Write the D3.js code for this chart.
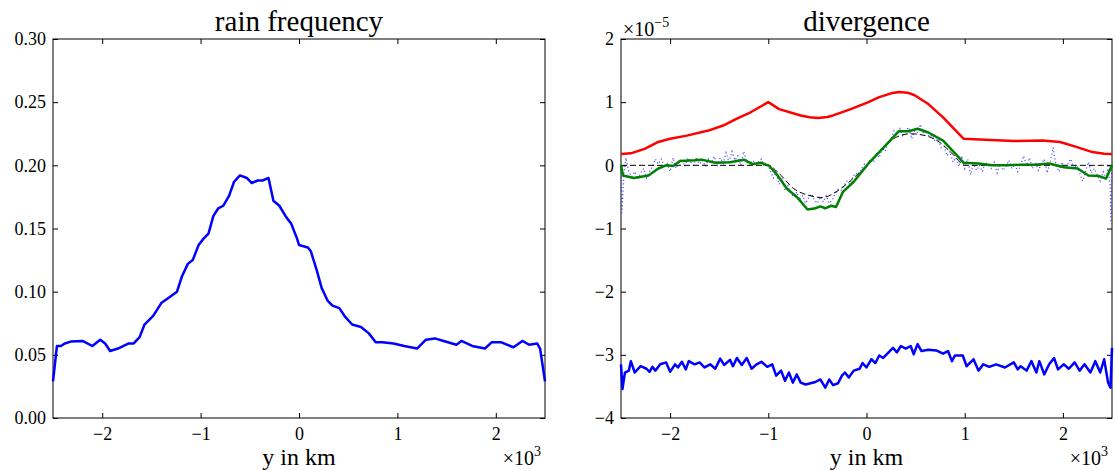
<!DOCTYPE html>
<head>
  <meta charset="utf-8">
  <script src="https://d3js.org/d3.v7.min.js"></script>
  <style>
    body { margin:0; background:#fff; }
    text { font-family: "Liberation Serif", "DejaVu Serif", serif; fill:#000; }
  </style>
</head>
<body>
<script>
// x in units of 10^3 km
var rainX = [-2.5,-2.46,-2.42,-2.38,-2.32,-2.2,-2.1,-2.02,-1.97,-1.92,-1.84,-1.73,-1.68,-1.62,-1.57,-1.48,-1.4,-1.31,-1.24,-1.19,-1.13,-1.08,-1.02,-0.97,-0.92,-0.87,-0.82,-0.77,-0.71,-0.66,-0.6,-0.53,-0.48,-0.42,-0.37,-0.31,-0.26,-0.2,-0.13,-0.08,-0.02,0.0,0.09,0.12,0.18,0.23,0.29,0.34,0.41,0.47,0.54,0.63,0.71,0.78,0.85,0.96,1.07,1.2,1.29,1.38,1.47,1.6,1.65,1.76,1.89,1.96,2.05,2.18,2.27,2.34,2.42,2.45,2.5];
var rainY = [0.029,0.057,0.057,0.059,0.0605,0.061,0.057,0.062,0.059,0.053,0.055,0.059,0.059,0.064,0.074,0.081,0.091,0.096,0.100,0.112,0.122,0.125,0.137,0.142,0.146,0.160,0.166,0.168,0.176,0.187,0.192,0.190,0.186,0.188,0.188,0.190,0.172,0.168,0.159,0.154,0.142,0.137,0.135,0.132,0.117,0.103,0.093,0.089,0.087,0.080,0.074,0.072,0.067,0.060,0.060,0.059,0.057,0.055,0.062,0.063,0.061,0.058,0.061,0.057,0.055,0.060,0.060,0.056,0.061,0.058,0.059,0.055,0.029];

// divergence series, values in units of 10^-5
var redX = [-2.5,-2.4,-2.26,-2.12,-2.0,-1.83,-1.61,-1.46,-1.32,-1.18,-1.0,-0.89,-0.67,-0.58,-0.49,-0.4,-0.34,-0.16,0.02,0.13,0.25,0.33,0.42,0.49,0.63,0.78,0.89,0.99,1.21,1.5,1.79,1.97,2.12,2.3,2.42,2.5];
var redY = [0.18,0.19,0.26,0.37,0.42,0.47,0.55,0.63,0.74,0.84,1.0,0.89,0.79,0.76,0.75,0.765,0.79,0.89,1.0,1.08,1.14,1.16,1.15,1.11,0.97,0.76,0.58,0.42,0.405,0.385,0.395,0.37,0.30,0.21,0.185,0.18];

var dashX = [-2.5,-1.0,-0.89,-0.74,-0.6,-0.45,-0.31,-0.16,0.0,0.16,0.31,0.45,0.6,0.74,0.89,1.0,2.5];
var dashY = [0,0,-0.13,-0.37,-0.47,-0.51,-0.42,-0.24,0.0,0.26,0.45,0.5,0.47,0.37,0.16,0,0];

var greenX = [-2.5,-2.48,-2.37,-2.22,-2.12,-2.04,-1.97,-1.9,-1.75,-1.68,-1.54,-1.39,-1.25,-1.16,-1.07,-0.99,-0.92,-0.81,-0.71,-0.6,-0.52,-0.47,-0.42,-0.36,-0.31,-0.24,-0.13,0.02,0.13,0.24,0.33,0.43,0.52,0.63,0.78,0.89,0.99,1.14,1.28,1.43,1.57,1.72,1.86,2.01,2.15,2.26,2.37,2.44,2.5];
var greenY = [0,-0.16,-0.2,-0.16,-0.05,0,-0.01,0.07,0.08,0.09,0.04,0.05,0.09,0.02,0.04,-0.01,-0.13,-0.37,-0.5,-0.7,-0.68,-0.65,-0.68,-0.64,-0.66,-0.42,-0.26,0.03,0.21,0.39,0.54,0.54,0.58,0.52,0.39,0.21,0.04,0.03,0.0,0.0,0.01,0.01,0.03,-0.03,-0.05,-0.16,-0.17,-0.21,0];

var dotX = [-2.5,-2.49,-2.47,-2.45,-2.42,-2.39,-2.36,-2.33,-2.3,-2.27,-2.24,-2.21,-2.18,-2.15,-2.12,-2.09,-2.06,-2.03,-2.0,-1.97,-1.94,-1.91,-1.88,-1.85,-1.82,-1.79,-1.76,-1.73,-1.7,-1.67,-1.64,-1.61,-1.58,-1.55,-1.52,-1.49,-1.46,-1.43,-1.4,-1.37,-1.34,-1.31,-1.28,-1.25,-1.22,-1.19,-1.16,-1.13,-1.1,-1.07,-1.04,-1.01,-0.98,-0.95,-0.92,-0.89,-0.86,-0.83,-0.8,-0.77,-0.74,-0.71,-0.68,-0.65,-0.62,-0.59,-0.56,-0.53,-0.5,-0.47,-0.44,-0.41,-0.38,-0.35,-0.32,-0.29,-0.26,-0.23,-0.2,-0.17,-0.14,-0.11,-0.08,-0.05,-0.02,0.01,0.04,0.07,0.1,0.13,0.16,0.19,0.22,0.25,0.28,0.31,0.34,0.37,0.4,0.43,0.46,0.49,0.52,0.55,0.58,0.61,0.64,0.67,0.7,0.73,0.76,0.79,0.82,0.85,0.88,0.91,0.94,0.97,1.0,1.03,1.06,1.09,1.12,1.15,1.18,1.21,1.24,1.27,1.3,1.33,1.36,1.39,1.42,1.45,1.48,1.51,1.54,1.57,1.6,1.63,1.66,1.69,1.72,1.75,1.78,1.81,1.84,1.87,1.9,1.93,1.96,1.99,2.02,2.05,2.08,2.11,2.14,2.17,2.2,2.23,2.26,2.29,2.32,2.35,2.38,2.41,2.44,2.46,2.48,2.49,2.5];
var dotY = [0.0,-0.75,-0.1,0.12,-0.1,-0.18,-0.1,-0.22,-0.12,-0.05,-0.2,-0.1,-0.02,0.1,0.02,0.1,0.0,0.03,-0.1,0.12,-0.05,0.05,0.1,-0.02,0.12,0.05,0.0,0.13,0.02,0.08,-0.02,0.1,0.04,0.14,0.0,0.12,0.03,0.2,0.05,0.22,0.08,0.15,0.0,0.22,0.05,0.0,0.08,0.02,0.05,0.1,-0.02,0.03,-0.08,-0.2,-0.12,-0.3,-0.2,-0.4,-0.32,-0.45,-0.5,-0.42,-0.55,-0.48,-0.6,-0.52,-0.45,-0.55,-0.6,-0.5,-0.58,-0.48,-0.6,-0.55,-0.45,-0.38,-0.4,-0.32,-0.25,-0.3,-0.18,-0.12,-0.15,-0.05,0.02,-0.02,0.1,0.05,0.18,0.12,0.28,0.22,0.35,0.4,0.55,0.5,0.58,0.45,0.55,0.6,0.42,0.55,0.52,0.65,0.5,0.55,0.45,0.48,0.38,0.42,0.28,0.3,0.15,0.22,0.05,0.12,-0.02,0.15,-0.05,0.1,-0.15,0.02,-0.08,0.0,-0.1,0.05,0.0,-0.05,0.05,-0.12,0.02,-0.08,-0.02,0.08,-0.05,0.02,-0.1,0.0,0.15,0.0,0.12,-0.05,0.05,-0.08,0.02,0.1,-0.12,0.05,0.28,0.0,-0.1,0.05,-0.05,0.02,0.1,-0.05,0.0,-0.12,-0.25,-0.1,0.05,-0.12,-0.05,-0.15,-0.25,-0.1,-0.2,-0.05,-0.3,-0.9,0.0];

var lowX = [-2.5,-2.485,-2.46,-2.42,-2.4,-2.36,-2.3,-2.24,-2.21,-2.18,-2.15,-2.1,-2.04,-2.0,-1.95,-1.92,-1.88,-1.84,-1.81,-1.75,-1.7,-1.65,-1.59,-1.54,-1.49,-1.45,-1.39,-1.36,-1.32,-1.27,-1.22,-1.17,-1.12,-1.07,-1.01,-0.96,-0.92,-0.87,-0.83,-0.79,-0.75,-0.71,-0.67,-0.62,-0.52,-0.47,-0.42,-0.38,-0.34,-0.29,-0.25,-0.22,-0.18,-0.13,-0.07,-0.04,0.0,0.05,0.09,0.13,0.17,0.22,0.27,0.31,0.35,0.4,0.45,0.48,0.52,0.56,0.63,0.71,0.78,0.83,0.87,0.9,0.98,1.02,1.09,1.14,1.19,1.25,1.32,1.41,1.5,1.54,1.57,1.63,1.68,1.73,1.76,1.81,1.86,1.91,1.95,2.01,2.06,2.12,2.17,2.22,2.28,2.33,2.38,2.42,2.46,2.485,2.5];
var lowY = [-3.15,-3.54,-3.28,-3.25,-3.10,-3.28,-3.18,-3.22,-3.27,-3.19,-3.25,-3.15,-3.12,-3.27,-3.15,-3.2,-3.11,-3.23,-3.10,-3.15,-3.12,-3.2,-3.15,-3.22,-3.06,-3.16,-3.08,-3.18,-3.05,-3.16,-3.05,-3.22,-3.15,-3.11,-3.19,-3.15,-3.33,-3.25,-3.41,-3.28,-3.44,-3.31,-3.44,-3.47,-3.43,-3.39,-3.52,-3.39,-3.48,-3.45,-3.33,-3.28,-3.36,-3.25,-3.22,-3.13,-3.2,-3.07,-3.13,-3.01,-3.05,-2.97,-2.89,-2.96,-2.86,-2.9,-2.86,-2.99,-2.83,-2.94,-2.92,-2.93,-2.98,-2.94,-3.10,-3.01,-3.01,-3.18,-3.07,-3.25,-3.15,-3.19,-3.15,-3.2,-3.12,-3.23,-3.18,-3.25,-3.10,-3.28,-3.10,-3.31,-3.15,-3.05,-3.23,-3.15,-3.22,-3.12,-3.25,-3.15,-3.28,-3.10,-3.28,-3.07,-3.44,-3.52,-2.89];

var xTicks = [-2, -1, 0, 1, 2];
var rainTicks = [0.00, 0.05, 0.10, 0.15, 0.20, 0.25, 0.30];
var divTicks = [-4, -3, -2, -1, 0, 1, 2];

var W = 1115, H = 470;
var FONT = '"Liberation Serif", "DejaVu Serif", serif';
var svg = d3.select("body").append("svg").attr("width", W).attr("height", H);

function minus(s) { return String(s).replace("-", "\u2212"); }
function zip(xs, ys) { return xs.map(function(x, i) { return [x, ys[i]]; }); }

function panel(left, right, yDomain, yTicks, yFmt, title) {
  var top = 39, bottom = 418;
  var x = d3.scaleLinear().domain([-2.5, 2.5]).range([left, right]);
  var y = d3.scaleLinear().domain(yDomain).range([bottom, top]);
  var g = svg.append("g");
  var tk = 5;

  var axes = [
    g.append("g").attr("transform", "translate(0," + bottom + ")")
      .call(d3.axisBottom(x).tickValues(xTicks).tickSizeInner(-tk).tickSizeOuter(0).tickPadding(9).tickFormat(minus)),
    g.append("g").attr("transform", "translate(0," + top + ")")
      .call(d3.axisTop(x).tickValues(xTicks).tickSizeInner(-tk).tickSizeOuter(0).tickFormat("")),
    g.append("g").attr("transform", "translate(" + left + ",0)")
      .call(d3.axisLeft(y).tickValues(yTicks).tickSizeInner(-tk).tickSizeOuter(0).tickPadding(7).tickFormat(yFmt)),
    g.append("g").attr("transform", "translate(" + right + ",0)")
      .call(d3.axisRight(y).tickValues(yTicks).tickSizeInner(-tk).tickSizeOuter(0).tickFormat(""))
  ];
  axes.forEach(function(a) { a.attr("font-family", FONT).attr("font-size", 18); });

  g.selectAll(".domain").remove();
  g.selectAll(".tick line").attr("stroke", "#000").attr("stroke-width", 1);
  g.selectAll(".tick text").attr("fill", "#000").style("font-family", FONT).style("font-size", "18px");

  g.append("rect").attr("x", left).attr("y", top).attr("width", right - left).attr("height", bottom - top)
    .attr("fill", "none").attr("stroke", "#000").attr("stroke-width", 1);

  g.append("text").attr("x", (left + right) / 2).attr("y", 31).attr("text-anchor", "middle")
    .style("font-size", "29px").text(title);
  g.append("text").attr("x", (left + right) / 2).attr("y", 465).attr("text-anchor", "middle")
    .style("font-size", "24px").text("y in km");
  var mult = g.append("text").attr("x", right - 4).attr("y", 465).attr("text-anchor", "end").style("font-size", "20px");
  mult.append("tspan").text("\u00d710");
  mult.append("tspan").attr("dy", -9).style("font-size", "14px").text("3");

  return { g: g, x: x, y: y };
}

// left panel: rain frequency
var p1 = panel(53, 545, [0, 0.30], rainTicks, d3.format(".2f"), "rain frequency");
var line1 = d3.line().x(function(d) { return p1.x(d[0]); }).y(function(d) { return p1.y(d[1]); });
p1.g.append("path").datum(zip(rainX, rainY)).attr("d", line1)
  .attr("fill", "none").attr("stroke", "#0000ff").attr("stroke-width", 2.5).attr("stroke-linejoin", "round");

// right panel: divergence
var p2 = panel(621, 1112, [-4, 2], divTicks, minus, "divergence");
var line2 = d3.line().x(function(d) { return p2.x(d[0]); }).y(function(d) { return p2.y(d[1]); });
var lines = p2.g.append("g");

lines.append("path").datum(zip(redX, redY)).attr("d", line2)
  .attr("fill", "none").attr("stroke", "#ff0000").attr("stroke-width", 2.5).attr("stroke-linejoin", "round");
lines.append("path").datum(zip(dotX, dotY)).attr("d", line2)
  .attr("fill", "none").attr("stroke", "#3333ff").attr("stroke-width", 1.2).attr("stroke-dasharray", "1.2,2.4").attr("opacity", 0.85);
lines.append("path").datum(zip(dashX, dashY)).attr("d", line2.curve(d3.curveMonotoneX))
  .attr("fill", "none").attr("stroke", "#000").attr("stroke-width", 1).attr("stroke-dasharray", "6,3");
line2.curve(d3.curveLinear);
lines.append("path").datum(zip(greenX, greenY)).attr("d", line2)
  .attr("fill", "none").attr("stroke", "#008000").attr("stroke-width", 2.5).attr("stroke-linejoin", "round");
lines.append("path").datum(zip(lowX, lowY)).attr("d", line2)
  .attr("fill", "none").attr("stroke", "#0000ff").attr("stroke-width", 2.5).attr("stroke-linejoin", "round");

var expo = p2.g.append("text").attr("x", 623).attr("y", 36).style("font-size", "20px");
expo.append("tspan").text("\u00d710");
expo.append("tspan").attr("dy", -9).style("font-size", "14px").text("\u22125");
</script>
</body>
